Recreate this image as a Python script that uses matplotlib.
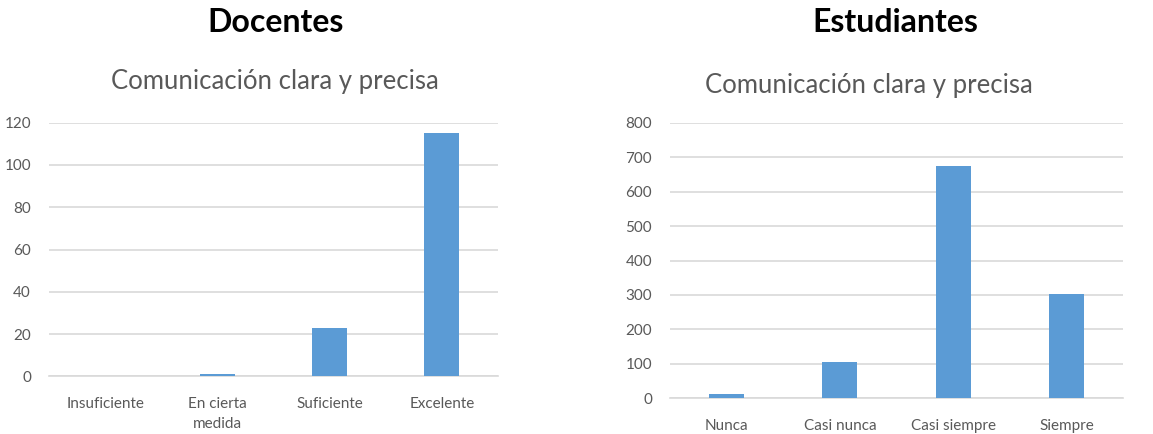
import matplotlib.pyplot as plt

plt.rcParams["font.family"] = ["Lato", "DejaVu Sans"]

doc_cats = ["Insuficiente", "En cierta\nmedida", "Suficiente", "Excelente"]
doc_vals = [0, 1, 23, 115]

est_cats = ["Nunca", "Casi nunca", "Casi siempre", "Siempre"]
est_vals = [12, 105, 674, 303]

W, H = 1153, 434
fig = plt.figure(figsize=(W / 100, H / 100), dpi=100)

bar_color = "#5B9BD5"
grid_color = "#D9D9D9"
text_color = "#595959"


def px_axes(x0, x1, ytop, ybot):
    return fig.add_axes([x0 / W, 1 - ybot / H, (x1 - x0) / W, (ybot - ytop) / H])


def style(ax, cats, vals, ymax, step):
    x = range(len(cats))
    ax.bar(x, vals, width=0.31, color=bar_color, zorder=3)
    ax.set_xlim(-0.5, len(cats) - 0.5)
    ax.set_ylim(0, ymax)
    ax.set_yticks(range(0, ymax + 1, step))
    ax.set_xticks(list(x))
    ax.set_xticklabels(cats, linespacing=1.5)
    ax.yaxis.grid(True, color=grid_color, linewidth=1.2, zorder=0)
    for s in ["top", "right", "left"]:
        ax.spines[s].set_visible(False)
    ax.spines["bottom"].set_color(grid_color)
    ax.spines["bottom"].set_linewidth(1.2)
    ax.tick_params(axis="both", length=0, labelsize=11, colors=text_color)
    ax.tick_params(axis="x", pad=15)
    ax.tick_params(axis="y", pad=13)


ax1 = px_axes(49, 498, 122.7, 376.3)
style(ax1, doc_cats, doc_vals, 120, 20)

ax2 = px_axes(670, 1123, 122.7, 398.3)
style(ax2, est_cats, est_vals, 800, 100)

fig.text(275.5 / W, 1 - 23 / H, "Docentes", ha="center", va="center",
         fontsize=23, fontweight="bold", color="black")
fig.text(895 / W, 1 - 23 / H, "Estudiantes", ha="center", va="center",
         fontsize=23, fontweight="bold", color="black")
fig.text(274.5 / W, 1 - 81 / H, "Comunicación clara y precisa", ha="center",
         va="center", fontsize=18.5, color=text_color)
fig.text(869 / W, 1 - 85 / H, "Comunicación clara y precisa", ha="center",
         va="center", fontsize=18.5, color=text_color)

fig.savefig("out.png", dpi=100)
